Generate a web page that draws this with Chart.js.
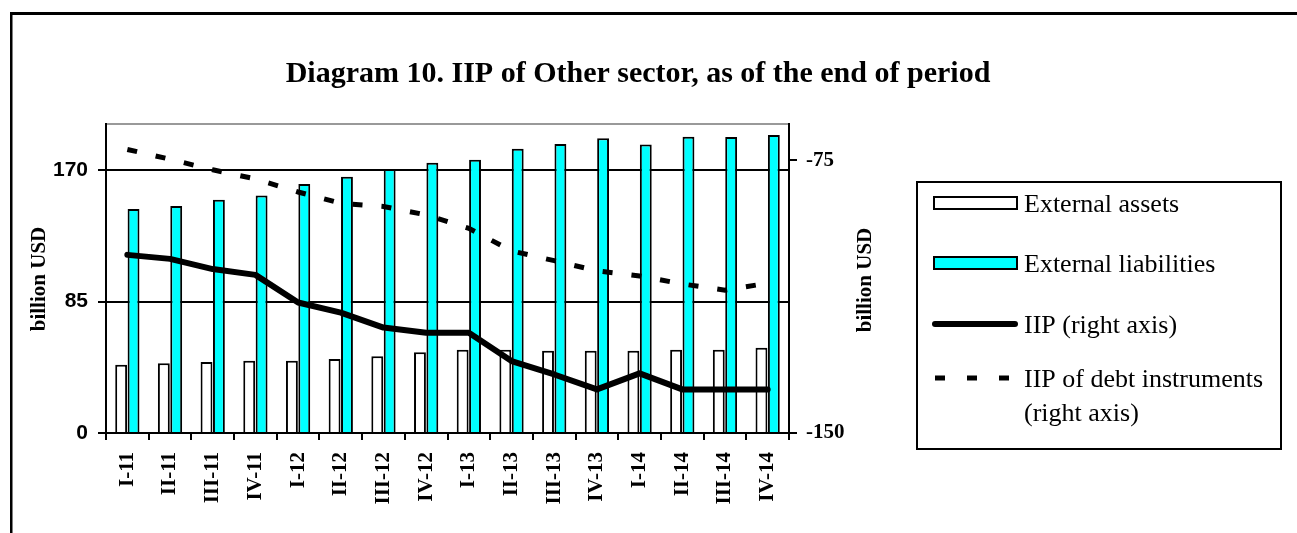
<!DOCTYPE html>
<html>
<head>
<meta charset="utf-8">
<title>Diagram 10. IIP of Other sector</title>
<script src="https://cdn.jsdelivr.net/npm/chart.js"></script>
<style>
    html, body { margin: 0; padding: 0; background: #fff; overflow: hidden; }
    #wrap { position: relative; width: 1297px; height: 533px; }
</style>
</head>
<body>
<div id="wrap"><canvas id="iipChart" width="1297" height="533"></canvas></div>
<script>
// Data
const quarters = ['I-11', 'II-11', 'III-11', 'IV-11', 'I-12', 'II-12', 'III-12', 'IV-12',
                  'I-13', 'II-13', 'III-13', 'IV-13', 'I-14', 'II-14', 'III-14', 'IV-14'];
const assets      = [44.2, 45.1, 46.0, 46.8, 46.8, 47.9, 49.6, 52.2, 53.9, 53.9, 53.3, 53.3, 53.3, 53.9, 53.9, 55.2];
const liabilities = [145.0, 147.0, 151.0, 153.8, 161.2, 165.9, 170.9, 175.0, 176.9, 183.9, 187.1, 190.7, 186.8, 191.8, 191.6, 192.9];
const iip         = [-101.0, -102.1, -104.9, -106.5, -114.1, -116.9, -121.0, -122.4, -122.4, -130.2, -133.9, -138.0, -133.6, -138.0, -138.0, -138.0];
const iipDebt     = [-72.0, -74.7, -77.6, -80.1, -83.7, -86.8, -87.7, -90.0, -93.7, -99.9, -102.6, -105.4, -106.8, -109.0, -110.7, -108.8];
const leftTicks  = [0, 85, 170];
const rightTicks = [-150, -75];
const seriesNames = ['External assets', 'External liabilities', 'IIP (right axis)', ['IIP of debt instruments', '(right axis)']];
const TITLE = 'Diagram 10. IIP of Other sector, as of the end of period';
const AXIS_TITLE = 'billion USD';

const SERIF = '"Liberation Serif", "Times New Roman", serif';
const SANS = '"Liberation Sans", Arial, sans-serif';

// frame, title, axis titles and the boxed legend
const decorations = {
    id: 'decorations',
    afterDraw(chart) {
        const ctx = chart.ctx;
        ctx.save();
        ctx.fillStyle = '#000';
        ctx.fillRect(10, 12, 1297, 3);
        ctx.fillRect(10, 12, 2.5, 533);

        ctx.font = 'bold 30px ' + SERIF;
        ctx.textAlign = 'center';
        ctx.textBaseline = 'alphabetic';
        ctx.fillText(TITLE, 638, 82);

        ctx.font = 'bold 21px ' + SERIF;
        ctx.textBaseline = 'middle';
        [[40, 279], [866, 280]].forEach(([x, y]) => {
            ctx.save();
            ctx.translate(x, y);
            ctx.rotate(-Math.PI / 2);
            ctx.fillText(AXIS_TITLE, 0, 0);
            ctx.restore();
        });

        // legend
        ctx.lineWidth = 2;
        ctx.strokeStyle = '#000';
        ctx.strokeRect(917, 182, 364, 267);
        const rows = [203, 263, 324, 378];
        const order = [2, 3, 0, 1]; // dataset index for each legend row
        ctx.textAlign = 'left';
        ctx.textBaseline = 'alphabetic';
        ctx.font = '26px ' + SERIF;
        order.forEach((di, i) => {
            const ds = chart.data.datasets[di];
            const y = rows[i];
            ctx.save();
            if (ds.type === 'line') {
                ctx.strokeStyle = ds.borderColor;
                ctx.lineWidth = ds.borderWidth;
                if (ds.borderDash) {
                    ctx.setLineDash([10, 22]);
                    ctx.lineCap = 'butt';
                } else {
                    ctx.lineCap = 'round';
                }
                ctx.beginPath();
                ctx.moveTo(935, y);
                ctx.lineTo(1015, y);
                ctx.stroke();
            } else {
                ctx.fillStyle = ds.backgroundColor;
                ctx.fillRect(934, y - 6, 83, 12);
                ctx.strokeStyle = ds.borderColor;
                ctx.lineWidth = 2;
                ctx.strokeRect(934, y - 6, 83, 12);
            }
            ctx.restore();
            const lines = [].concat(seriesNames[i]);
            lines.forEach((t, k) => ctx.fillText(t, 1024, y + 9 + k * 34));
        });
        ctx.restore();
    }
};

new Chart(document.getElementById('iipChart'), {
    type: 'bar',
    data: {
        labels: quarters,
        datasets: [
            { type: 'line', label: seriesNames[2], data: iip, yAxisID: 'y2', order: 0,
              borderColor: '#000', borderWidth: 6, pointRadius: 0, tension: 0,
              borderJoinStyle: 'round', borderCapStyle: 'round' },
            { type: 'line', label: seriesNames[3].join(' '), data: iipDebt, yAxisID: 'y2', order: 0,
              borderColor: '#000', borderWidth: 5, borderDash: [10, 19], pointRadius: 0, tension: 0 },
            { label: seriesNames[0], data: assets, yAxisID: 'y', order: 1,
              backgroundColor: '#fff', borderColor: '#000', borderWidth: 2 },
            { label: seriesNames[1], data: liabilities, yAxisID: 'y', order: 1,
              backgroundColor: '#00ffff', borderColor: '#000', borderWidth: 2 }
        ]
    },
    options: {
        responsive: false,
        animation: false,
        devicePixelRatio: 1,
        layout: { padding: { top: 124, left: 0, right: 0, bottom: 0 } },
        datasets: { bar: { categoryPercentage: 0.58, barPercentage: 0.96 } },
        plugins: { legend: { display: false }, title: { display: false }, tooltip: { enabled: false } },
        scales: {
            x: {
                offset: true,
                grid: { offset: true, drawOnChartArea: false, color: '#000', lineWidth: 2, tickLength: 7 },
                border: { color: '#000', width: 2 },
                ticks: { color: '#000', font: { family: SERIF, size: 21, weight: 'bold' },
                         minRotation: 90, maxRotation: 90, autoSkip: false, padding: 12 },
                afterFit: s => { s.height = 100; }
            },
            y: {
                position: 'left',
                min: 0, max: 200,
                afterBuildTicks: s => { s.ticks = leftTicks.concat([200]).map(v => ({ value: v })); },
                grid: {
                    color: c => (c.tick && c.tick.value === 200) ? '#999' : '#000',
                    tickColor: c => (c.tick && c.tick.value === 200) ? 'rgba(0,0,0,0)' : '#000',
                    lineWidth: 2, tickLength: 8
                },
                border: { color: '#000', width: 2 },
                ticks: { color: '#000', font: { family: SANS, size: 21, weight: 'bold' }, padding: 10,
                         callback: v => leftTicks.includes(v) ? v : '' },
                afterFit: s => { s.width = 106; }
            },
            y2: {
                position: 'right',
                min: -150, max: -65,
                afterBuildTicks: s => { s.ticks = rightTicks.map(v => ({ value: v })); },
                grid: { drawOnChartArea: false, color: '#000', lineWidth: 2, tickLength: 8 },
                border: { color: '#000', width: 2 },
                ticks: { color: '#000', font: { family: SERIF, size: 21, weight: 'bold' }, padding: 9 },
                afterFit: s => { s.width = 1297 - 789; }
            }
        }
    },
    plugins: [decorations]
});
</script>
</body>
</html>
